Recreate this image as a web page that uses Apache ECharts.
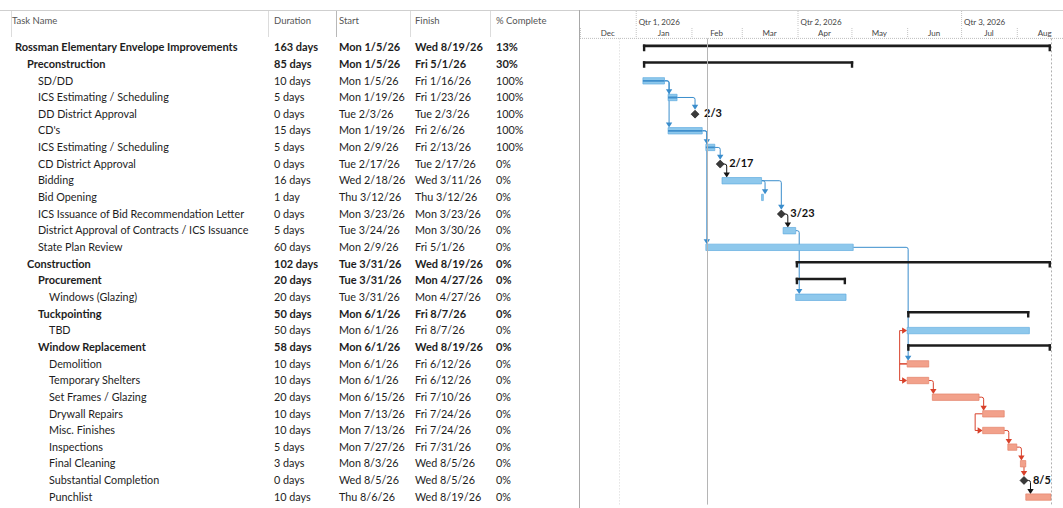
<!DOCTYPE html>
<html><head><meta charset="utf-8">
<script src="https://cdn.jsdelivr.net/npm/echarts@6/dist/echarts.min.js"></script>
<style>html,body{margin:0;padding:0;background:#fff}#c{width:1063px;height:508px}</style>
</head><body><div id="c"></div>
<script>
// ---------- DATA ----------
const columnHeaders = ['Task Name', 'Duration', 'Start', 'Finish', '% Complete'];
const taskNames = [
  'Rossman Elementary Envelope Improvements', 'Preconstruction', 'SD/DD', 'ICS Estimating / Scheduling',
  'DD District Approval', "CD's", 'ICS Estimating / Scheduling', 'CD District Approval', 'Bidding',
  'Bid Opening', 'ICS Issuance of Bid Recommendation Letter', 'District Approval of Contracts / ICS Issuance',
  'State Plan Review', 'Construction', 'Procurement', 'Windows (Glazing)', 'Tuckpointing', 'TBD',
  'Window Replacement', 'Demolition', 'Temporary Shelters', 'Set Frames / Glazing', 'Drywall Repairs',
  'Misc. Finishes', 'Inspections', 'Final Cleaning', 'Substantial Completion', 'Punchlist'
];
const taskLevels = [0,1,2,2,2,2,2,2,2,2,2,2,2,1,2,3,2,3,2,3,3,3,3,3,3,3,3,3];
const taskDurations = [
  '163 days','85 days','10 days','5 days','0 days','15 days','5 days','0 days','16 days','1 day',
  '0 days','5 days','60 days','102 days','20 days','20 days','50 days','50 days','58 days','10 days',
  '10 days','20 days','10 days','10 days','5 days','3 days','0 days','10 days'
];
const taskStarts = [
  'Mon 1/5/26','Mon 1/5/26','Mon 1/5/26','Mon 1/19/26','Tue 2/3/26','Mon 1/19/26','Mon 2/9/26',
  'Tue 2/17/26','Wed 2/18/26','Thu 3/12/26','Mon 3/23/26','Tue 3/24/26','Mon 2/9/26','Tue 3/31/26',
  'Tue 3/31/26','Tue 3/31/26','Mon 6/1/26','Mon 6/1/26','Mon 6/1/26','Mon 6/1/26','Mon 6/1/26',
  'Mon 6/15/26','Mon 7/13/26','Mon 7/13/26','Mon 7/27/26','Mon 8/3/26','Wed 8/5/26','Thu 8/6/26'
];
const taskFinishes = [
  'Wed 8/19/26','Fri 5/1/26','Fri 1/16/26','Fri 1/23/26','Tue 2/3/26','Fri 2/6/26','Fri 2/13/26',
  'Tue 2/17/26','Wed 3/11/26','Thu 3/12/26','Mon 3/23/26','Mon 3/30/26','Fri 5/1/26','Wed 8/19/26',
  'Mon 4/27/26','Mon 4/27/26','Fri 8/7/26','Fri 8/7/26','Wed 8/19/26','Fri 6/12/26','Fri 6/12/26',
  'Fri 7/10/26','Fri 7/24/26','Fri 7/24/26','Fri 7/31/26','Wed 8/5/26','Wed 8/5/26','Wed 8/19/26'
];
const taskComplete = [
  '13%','30%','100%','100%','100%','100%','100%','0%','0%','0%','0%','0%','0%','0%','0%','0%',
  '0%','0%','0%','0%','0%','0%','0%','0%','0%','0%','0%','0%'
];
const summaryRows = [0, 1, 13, 14, 16, 18];
const criticalRows = [19, 20, 21, 22, 23, 24, 25, 26, 27];
// [predecessor row, successor row, link type]
const links = [
  [2,3,'FS'],[2,5,'FS'],[3,4,'FS'],[5,6,'FS'],[5,12,'FS'],[6,7,'FS'],[7,8,'FS'],[8,9,'FS'],
  [8,10,'FS'],[10,11,'FS'],[11,15,'FS'],[12,19,'FS'],[19,17,'SS'],[19,20,'SS'],[20,21,'FS'],
  [21,22,'FS'],[22,23,'SS'],[23,24,'FS'],[24,25,'FS'],[25,26,'FS'],[26,27,'FS']
];
const quarterLabels = ['Qtr 1, 2026', 'Qtr 2, 2026', 'Qtr 3, 2026'];
const quarterStarts = ['1/1/26', '4/1/26', '7/1/26'];
const monthLabels = ['Dec', 'Jan', 'Feb', 'Mar', 'Apr', 'May', 'Jun', 'Jul', 'Aug'];
const monthStarts = ['12/1/25','1/1/26','2/1/26','3/1/26','4/1/26','5/1/26','6/1/26','7/1/26','8/1/26','9/1/26'];
const timelineStart = '12/1/25';
const timelineEnd = '8/26/26';
const statusDate = '2/10/26';
const markerDate = '12/23/25';

// ---------- HELPERS ----------
const BASE = Date.UTC(2026, 0, 1);
function dayOf(str) {
  const p = str.trim().split(' ');
  const [m, d, y] = p[p.length - 1].split('/').map(Number);
  return (Date.UTC(2000 + y, m - 1, d) - BASE) / 86400000;
}
function mdLabel(str) {
  const p = str.trim().split(' ');
  const [m, d] = p[p.length - 1].split('/');
  return m + '/' + d;
}
const isSummary = i => summaryRows.indexOf(i) >= 0;
const isCritical = i => criticalRows.indexOf(i) >= 0;
const isMilestone = i => taskDurations[i] === '0 days';
const startDay = taskStarts.map(dayOf);
const endDay = taskFinishes.map((f, i) => isMilestone(i) ? dayOf(f) : dayOf(f) + 1);
const pctNum = taskComplete.map(s => parseFloat(s) / 100);

const FONT = 'Lato, "Open Sans", sans-serif';
const rowIdx = taskNames.map((_, i) => String(i));
const xMin = dayOf(timelineStart);
const xMax = dayOf(timelineEnd) + 0.7;

const BLUE = '#8ec8ec', BLUE_ST = '#62acdf', BLUE_PROG = '#3f8fcc';
const RED = '#f2a18b', RED_ST = '#e4826a';
const LINK_BLUE = '#3a8dcc', LINK_RED = '#d8402a', LINK_BLACK = '#141414';

// ---------- RENDERERS ----------
const colX = [0, 274, 339, 415, 496];
const indent = [15, 27, 38, 49];
function renderTable(params, api) {
  const i = api.value(0);
  const y = api.coord([0, i])[1];
  const bold = isSummary(i);
  const st = (txt, x) => ({
    type: 'text', x: x, y: y,
    style: { text: txt, fontFamily: FONT, fontSize: bold ? 11 : 10.8, fontWeight: bold ? 'bold' : 'normal',
      fill: '#1d1d1d', verticalAlign: 'middle', align: 'left' }
  });
  return { type: 'group', children: [
    st(taskNames[i], indent[taskLevels[i]]),
    st(taskDurations[i], colX[1]),
    st(taskStarts[i], colX[2]),
    st(taskFinishes[i], colX[3]),
    st(taskComplete[i], colX[4])
  ]};
}

function renderBar(params, api) {
  const i = api.value(1);
  const s = api.coord([api.value(0), i]);
  const e = api.coord([api.value(2), i]);
  const yc = s[1];
  const children = [];
  if (isSummary(i)) {
    children.push({ type: 'rect', shape: { x: s[0], y: yc - 2.2, width: e[0] - s[0], height: 2.6 }, style: { fill: '#1c1c1c' } });
    children.push({ type: 'rect', shape: { x: s[0], y: yc - 2.2, width: 2.4, height: 6.6 }, style: { fill: '#1c1c1c' } });
    children.push({ type: 'rect', shape: { x: e[0] - 2.4, y: yc - 2.2, width: 2.4, height: 6.6 }, style: { fill: '#1c1c1c' } });
  } else if (isMilestone(i)) {
    const cx = s[0], cy = yc + 0.8, r = 4;
    children.push({ type: 'polygon', shape: { points: [[cx, cy - r], [cx + r, cy], [cx, cy + r], [cx - r, cy]] },
      style: { fill: '#3a3a3a', stroke: '#1a1a1a', lineWidth: 0.6 } });
    children.push({ type: 'text', x: cx + 9, y: yc - 0.5,
      style: { text: mdLabel(taskStarts[i]), fontFamily: FONT, fontSize: 11, fontWeight: 'bold', fill: '#111', verticalAlign: 'middle' } });
  } else {
    const crit = isCritical(i);
    const w = Math.max(e[0] - s[0], 1.4);
    children.push({ type: 'rect', shape: { x: s[0], y: yc - 2.4, width: w, height: 6.4 },
      style: { fill: crit ? RED : BLUE, stroke: crit ? RED_ST : BLUE_ST, lineWidth: 0.7 } });
    if (pctNum[i] > 0) {
      children.push({ type: 'rect', shape: { x: s[0], y: yc - 0.1, width: w * pctNum[i], height: 1.8 },
        style: { fill: BLUE_PROG } });
    }
  }
  return { type: 'group', children };
}

function renderLink(params, api) {
  const k = api.value(2);
  const [a, b, type] = links[k];
  const color = isMilestone(a) ? LINK_BLACK : (isCritical(a) ? LINK_RED : LINK_BLUE);
  const pa = api.coord([startDay[a], a]), pae = api.coord([endDay[a], a]);
  const pb = api.coord([startDay[b], b]);
  const children = [];
  if (type === 'FS') {
    const sy = pa[1] + 0.8;
    const sx = isMilestone(a) ? pa[0] + 3 : pae[0];
    let vx, ty;
    if (isMilestone(b)) { vx = pb[0]; ty = pb[1] - 3.6; }
    else { vx = Math.max(sx + 3.5, pb[0] + 1); ty = pb[1] - 2.4; }
    const r = 2;
    const path = 'M' + sx + ' ' + sy + ' L' + (vx - r) + ' ' + sy + ' Q' + vx + ' ' + sy + ' ' + vx + ' ' + (sy + r) +
      ' L' + vx + ' ' + (ty - 4);
    children.push({ type: 'path', shape: { pathData: path }, style: { stroke: color, lineWidth: 1, fill: 'none' } });
    children.push({ type: 'polygon', shape: { points: [[vx - 3.2, ty - 5], [vx + 3.2, ty - 5], [vx, ty]] }, style: { fill: color } });
  } else {
    const sy = pa[1] + 0.8, ty = pb[1] + 0.8;
    const sx = pa[0], tx = pb[0];
    const vx = Math.min(sx, tx) - 7.5;
    const path = 'M' + sx + ' ' + sy + ' L' + vx + ' ' + sy + ' L' + vx + ' ' + ty + ' L' + (tx - 4) + ' ' + ty;
    children.push({ type: 'path', shape: { pathData: path }, style: { stroke: color, lineWidth: 1, fill: 'none' } });
    children.push({ type: 'polygon', shape: { points: [[tx - 5, ty - 3.2], [tx - 5, ty + 3.2], [tx, ty]] }, style: { fill: color } });
  }
  return { type: 'group', children };
}

function renderHeader(params, api) {
  const kind = api.value(2); // 0 quarter, 1 month
  const idx = api.value(3);
  const s = api.coord([api.value(0), 1]);
  const e = api.coord([api.value(1), 0]);
  const yTop = s[1], yBot = e[1];
  const split = yTop + 17;
  const children = [];
  if (kind === 0) {
    children.push({ type: 'line', shape: { x1: s[0] + 0.5, y1: yTop + 1, x2: s[0] + 0.5, y2: split },
      style: { stroke: '#c4c4c4', lineWidth: 1, lineDash: [1, 1] } });
    children.push({ type: 'text', x: s[0] + 3, y: yTop + 11.5,
      style: { text: quarterLabels[idx], fontFamily: FONT, fontSize: 8, fill: '#444', verticalAlign: 'middle' } });
  } else {
    children.push({ type: 'line', shape: { x1: s[0] + 0.5, y1: split + 1, x2: s[0] + 0.5, y2: yBot },
      style: { stroke: '#c4c4c4', lineWidth: 1, lineDash: [1, 1] } });
    children.push({ type: 'text', x: (s[0] + e[0]) / 2, y: yTop + 23,
      style: { text: monthLabels[idx], fontFamily: FONT, fontSize: 8, fill: '#444', verticalAlign: 'middle', align: 'center' } });
  }
  return { type: 'group', children };
}

// ---------- DATA FOR SERIES ----------
const tableData = taskNames.map((_, i) => [i]);
const barData = taskNames.map((_, i) => [startDay[i], i, endDay[i]]);
const linkData = links.map((l, k) => [startDay[l[0]], l[0], k]);
const headerData = [];
quarterStarts.forEach((q, k) => headerData.push([dayOf(q), dayOf(q) + 90, 0, k]));
monthLabels.forEach((m, k) => headerData.push([dayOf(monthStarts[k]), dayOf(monthStarts[k + 1]), 1, k]));

// ---------- LAYOUT ----------
const ROW_TOP = 38.4, ROW_H = 16.65;
const gridH = ROW_H * taskNames.length;
const headerCols = [12, 274, 339, 415, 496];
const headerDiv = [11, 268, 336, 410, 490];

const graphic = [
  { type: 'line', shape: { x1: 0, y1: 10.5, x2: 1063, y2: 10.5 }, style: { stroke: '#cfcfcf', lineWidth: 1 } },
  { type: 'line', shape: { x1: 580, y1: 38.4, x2: 1063, y2: 38.4 }, style: { stroke: '#bdbdbd', lineWidth: 1, lineDash: [1, 1] } },
  { type: 'line', shape: { x1: 579.5, y1: 10, x2: 579.5, y2: 508 }, style: { stroke: '#a8a8a8', lineWidth: 1 } }
];
headerDiv.forEach((x, k) => graphic.push({ type: 'line', shape: { x1: x + 0.5, y1: 11, x2: x + 0.5, y2: 37 },
  style: { stroke: k === 2 ? '#b8b8b8' : '#dcdcdc', lineWidth: 1 } }));
columnHeaders.forEach((h, k) => graphic.push({ type: 'text', x: headerCols[k], y: 20,
  style: { text: h, fontFamily: FONT, fontSize: 9.5, fill: '#555', verticalAlign: 'middle' } }));

const chart = echarts.init(document.getElementById('c'), null, { renderer: 'svg' });
chart.setOption({
  animation: false,
  backgroundColor: '#fff',
  grid: [
    { left: 0, top: ROW_TOP, width: 580, height: gridH },
    { left: 580, top: ROW_TOP, width: 483, height: gridH },
    { left: 580, top: 10, width: 483, height: ROW_TOP - 10 }
  ],
  xAxis: [
    { type: 'value', gridIndex: 0, min: 0, max: 580, show: false },
    { type: 'value', gridIndex: 1, min: xMin, max: xMax, show: false },
    { type: 'value', gridIndex: 2, min: xMin, max: xMax, show: false }
  ],
  yAxis: [
    { type: 'category', gridIndex: 0, data: rowIdx, inverse: true, show: false },
    { type: 'category', gridIndex: 1, data: rowIdx, inverse: true, show: false },
    { type: 'value', gridIndex: 2, min: 0, max: 1, show: false }
  ],
  graphic: graphic,
  series: [
    { type: 'custom', xAxisIndex: 0, yAxisIndex: 0, renderItem: renderTable, data: tableData, encode: { y: 0 }, silent: true },
    { type: 'custom', xAxisIndex: 2, yAxisIndex: 2, renderItem: renderHeader, data: headerData, encode: { x: [0, 1] }, silent: true, clip: true },
    { type: 'custom', xAxisIndex: 1, yAxisIndex: 1, renderItem: renderLink, data: linkData, encode: { x: 0, y: 1 }, silent: true, z: 2,
      markLine: {
        silent: true, symbol: 'none', label: { show: false },
        data: [
          { xAxis: dayOf(markerDate), lineStyle: { color: '#d6d6d6', type: [1, 2], width: 1 } },
          { xAxis: dayOf(statusDate), lineStyle: { color: '#b5b5b5', type: 'solid', width: 1 } },
          { xAxis: endDay[0], lineStyle: { color: '#b0b0b0', type: [2, 2], width: 1 } }
        ]
      } },
    { type: 'custom', xAxisIndex: 1, yAxisIndex: 1, renderItem: renderBar, data: barData, encode: { x: [0, 2], y: 1 }, silent: true, z: 3, clip: true }
  ]
});
</script>
</body></html>
